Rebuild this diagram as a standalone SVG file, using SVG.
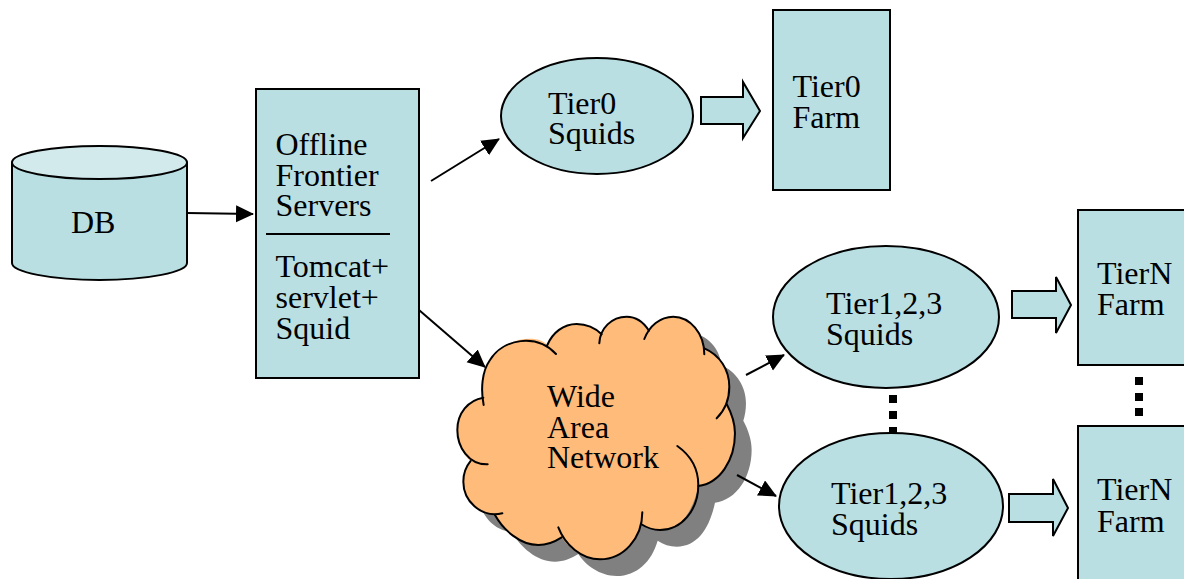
<svg xmlns="http://www.w3.org/2000/svg" width="1184" height="579" viewBox="0 0 1184 579">
<style>
.n{fill:#b9dfe3;stroke:#000;stroke-width:2}
.t{font-family:"Liberation Serif","Times New Roman",serif;font-size:32px;fill:#000}
.c{fill:none;stroke:#000;stroke-width:2}
.o{fill:none;stroke:#000;stroke-width:6;stroke-linecap:round}
</style>
<defs>
<marker id="h" markerUnits="userSpaceOnUse" markerWidth="19" markerHeight="18" refX="17" refY="8.500" orient="auto"><path d="M0 0L18 8.500L0 17Z" fill="#000"/></marker>
<path id="cl" d="M130 293C125 255 130 215 150 180C190 115 290 100 322 135C338 98 370 72 410 72C440 72 465 83 485 103C495 70 525 50 560 50C585 50 610 65 627 92C645 68 670 50 700 50C750 50 793 100 793 145C840 165 868 210 868 260C868 280 865 297 860 312C875 340 885 370 885 400C885 480 840 550 775 558C760 630 725 690 660 690C640 690 620 683 603 672C585 735 540 778 480 778C430 778 385 745 365 712C345 725 320 735 295 735C240 735 190 690 165 645C120 645 70 600 70 545C70 520 78 500 92 483C70 465 52 430 52 390C52 340 85 300 130 293Z"/>
</defs>
<g id="db">
<path class="n" d="M12 162.500V263C12 272 51 280 99.500 280S187 272 187 263V162.500Z"/>
<ellipse cx="99.500" cy="162.500" rx="87.500" ry="16.500" fill="#d3eaed" stroke="#000" stroke-width="2"/>
<text class="t" x="71" y="233">DB</text>
</g>
<g id="frontier">
<rect class="n" x="256" y="89" width="163" height="289"/>
<path class="c" d="M266 234H390"/>
<text class="t" x="275.500" y="155">Offline</text>
<text class="t" x="275.500" y="186">Frontier</text>
<text class="t" x="275.500" y="216">Servers</text>
<text class="t" x="275.500" y="277">Tomcat+</text>
<text class="t" x="275.500" y="308">servlet+</text>
<text class="t" x="275.500" y="339">Squid</text>
</g>
<g id="tier0-squids">
<ellipse class="n" cx="597" cy="116" rx="96" ry="58"/>
<text class="t" x="548" y="114">Tier0</text>
<text class="t" x="548" y="144">Squids</text>
</g>
<g id="tier0-arrow"><path class="n" d="M701 97H743V82L760 111L743 138V124H701Z"/></g>
<g id="tier0-farm">
<rect class="n" x="773" y="10" width="117" height="180"/>
<text class="t" x="792.500" y="97">Tier0</text>
<text class="t" x="792.500" y="128">Farm</text>
</g>
<g id="wan">
<g transform="translate(440 300) scale(.3333)">
<use href="#cl" transform="translate(50 50)" fill="#808080"/>
<use href="#cl" fill="#ffbb7a"/>
<path class="o" d="M131 315C122 270 125 215 150 180C190 115 290 100 348 162"/>
<path class="o" d="M130 293C85 300 52 340 52 390C52 440 85 495 143 493"/>
<path class="o" d="M92 483C78 500 70 520 70 545C70 600 120 655 187 640"/>
<path class="o" d="M165 645C190 690 240 735 295 735C320 735 345 725 365 712"/>
<path class="o" d="M355 682C375 735 425 778 480 778C550 778 607 715 607 637"/>
<path class="o" d="M603 672C620 683 640 690 660 690C725 690 775 630 775 555C775 505 750 465 712 438"/>
<path class="o" d="M775 558C840 550 885 480 885 400C885 370 875 340 860 312"/>
<path class="o" d="M830 355C855 330 868 295 868 260C868 210 840 165 793 145"/>
<path class="o" d="M793 163C793 100 750 50 700 50C660 50 628 78 613 117"/>
<path class="o" d="M627 92C610 65 585 50 560 50C515 50 480 85 478 130"/>
<path class="o" d="M485 103C465 83 440 72 410 72C370 72 338 98 322 135"/>
</g>
<text class="t" x="547" y="407">Wide</text>
<text class="t" x="547" y="438">Area</text>
<text class="t" x="547" y="468">Network</text>
</g>
<g id="squids-a">
<ellipse class="n" cx="886" cy="317" rx="113" ry="71"/>
<text class="t" x="826" y="314">Tier1,2,3</text>
<text class="t" x="826" y="345">Squids</text>
</g>
<g id="dots-a"><path d="M889 395h8v8h-8zM889 411h8v8h-8zM889 427h8v8h-8z" fill="#000"/></g>
<g id="squids-b">
<ellipse class="n" cx="891" cy="506" rx="112" ry="73"/>
<text class="t" x="831" y="504">Tier1,2,3</text>
<text class="t" x="831" y="535">Squids</text>
</g>
<g id="tiern-arrow-a"><path class="n" d="M1012 291H1056V277L1071 305L1056 333V318H1012Z"/></g>
<g id="tiern-arrow-b"><path class="n" d="M1009 494H1053V479L1068 508L1053 536V522H1009Z"/></g>
<g id="tiern-farm-a">
<rect class="n" x="1078" y="210" width="112" height="155"/>
<text class="t" x="1097" y="284">TierN</text>
<text class="t" x="1097" y="315">Farm</text>
</g>
<g id="dots-b"><path d="M1135 377h8v8h-8zM1135 393h8v8h-8zM1135 408h8v8h-8z" fill="#000"/></g>
<g id="tiern-farm-b">
<rect class="n" x="1078" y="426" width="112" height="165"/>
<text class="t" x="1097" y="500">TierN</text>
<text class="t" x="1097" y="532">Farm</text>
</g>
<g id="connectors">
<path class="c" d="M187 213L253 214" marker-end="url(#h)"/>
<path class="c" d="M431 181L499 139" marker-end="url(#h)"/>
<path class="c" d="M419 310L485 367" marker-end="url(#h)"/>
<path class="c" d="M746 375L784 355" marker-end="url(#h)"/>
<path class="c" d="M737 475L776 496" marker-end="url(#h)"/>
</g>
</svg>
